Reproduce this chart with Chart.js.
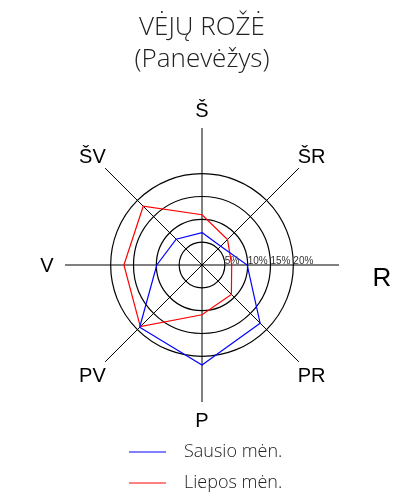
<!DOCTYPE html>
<html lang="lt">
<head>
<meta charset="utf-8">
<title>Vėjų rožė</title>
<script src="https://cdn.jsdelivr.net/npm/chart.js@4.4.1/dist/chart.umd.min.js"></script>
<style>
  html, body { margin: 0; padding: 0; background: #fff; }
  #wrap { width: 414px; height: 500px; }
</style>
</head>
<body>
<div id="wrap"><canvas id="windRoseChart" width="414" height="500"></canvas></div>
<script>
// kryptys (Š - šiaurė, pagal laikrodžio rodyklę)
const directions = ['Š', 'ŠR', 'R', 'PR', 'P', 'PV', 'V', 'ŠV'];
// vėjo pasikartojimas, %
const sausio = [7.1, 5.8, 9.9, 18.0, 21.9, 19.3, 9.9, 8.0];
const liepos = [11.0, 7.9, 6.5, 9.1, 10.9, 19.1, 17.1, 18.2];
const seriesNames = ['Sausio mėn.', 'Liepos mėn.'];
const tickValues = [5, 10, 15, 20];
const titleLines = ['VĖJŲ ROŽĖ', '(Panevėžys)'];

document.addEventListener("DOMContentLoaded", function () {
    const canvas = document.getElementById('windRoseChart');
    if (!canvas) {
        console.error('windRoseChart canvas not found!');
        return;
    }
    const ctx = canvas.getContext('2d');
    const labelFont = '"Liberation Sans", Arial, sans-serif';
    const textFont = '"Open Sans", "Segoe UI", sans-serif';

    // krypčių pavadinimai, procentų žymės ir legenda
    const roseDecor = {
        id: 'roseDecor',
        afterDatasetsDraw(chart) {
            const scale = chart.scales.r;
            const c = chart.ctx;
            const outer = scale.getDistanceFromCenterForValue(scale.max);
            c.save();

            // krypčių pavadinimai
            c.fillStyle = '#000';
            c.textAlign = 'center';
            c.textBaseline = 'alphabetic';
            directions.forEach((name, i) => {
                const big = (name === 'R');
                const size = big ? 26 : 20;
                const p = scale.getPointPosition(i, outer + (big ? 43 : 18));
                c.font = size + 'px ' + labelFont;
                c.fillText(name, p.x, p.y + size * 0.358 + (big ? 12 : 0));
            });

            // procentų žymės ant R ašies
            c.font = '10px ' + labelFont;
            c.fillStyle = '#333';
            c.textAlign = 'left';
            c.textBaseline = 'alphabetic';
            tickValues.forEach(v => {
                const d = scale.getDistanceFromCenterForValue(v);
                c.fillText(v + '%', scale.xCenter + d, scale.yCenter - 1);
            });

            // legenda
            chart.data.datasets.forEach((ds, i) => {
                const y = 452 + i * 31;
                c.strokeStyle = ds.borderColor;
                c.lineWidth = 1;
                c.beginPath();
                c.moveTo(129, y);
                c.lineTo(166, y);
                c.stroke();
                c.font = '300 18px ' + textFont;
                c.fillStyle = '#222';
                c.textBaseline = 'middle';
                c.fillText(ds.label, 184, y);
            });
            c.restore();
        }
    };

    new Chart(ctx, {
        type: 'radar',
        data: {
            labels: directions,
            datasets: [
                {
                    label: seriesNames[0],
                    data: sausio,
                    borderColor: '#0000ff',
                    borderWidth: 1.2,
                    fill: false,
                    pointRadius: 0
                },
                {
                    label: seriesNames[1],
                    data: liepos,
                    borderColor: '#ff0000',
                    borderWidth: 1.2,
                    fill: false,
                    pointRadius: 0
                }
            ]
        },
        options: {
            responsive: false,
            animation: false,
            layout: {
                padding: { left: 10, right: 20, top: 0, bottom: 97 }
            },
            plugins: {
                legend: { display: false },
                tooltip: { enabled: false },
                title: {
                    display: true,
                    text: titleLines,
                    color: '#222',
                    font: { family: textFont, size: 26, weight: 300, lineHeight: 1.23 },
                    padding: { top: 12, bottom: 53 }
                }
            },
            scales: {
                r: {
                    min: 0,
                    max: 30,
                    beginAtZero: true,
                    ticks: { stepSize: 5, display: false },
                    pointLabels: { display: false },
                    angleLines: { color: '#000', lineWidth: 1 },
                    grid: {
                        circular: true,
                        lineWidth: 1.2,
                        color: (c) => (c.tick && c.tick.value <= 20 ? '#000' : 'rgba(0,0,0,0)')
                    }
                }
            }
        },
        plugins: [roseDecor]
    });
});
</script>
</body>
</html>
